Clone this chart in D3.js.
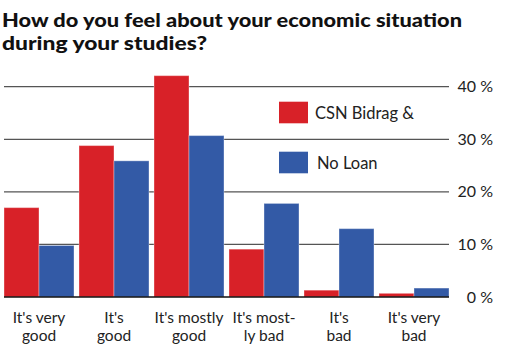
<!DOCTYPE html>
<html><head><meta charset="utf-8">
<script src="https://cdn.jsdelivr.net/npm/d3@7"></script>
<style>body{margin:0;background:#fff}svg{display:block}</style>
</head><body>
<svg id="c" width="510" height="364"></svg>
<script>
const categories = [["It's very","good"],["It's","good"],["It's mostly","good"],["It's most-","ly bad"],["It's","bad"],["It's very","bad"]];
const seriesNames = ["CSN Bidrag &", "No Loan"];
const csnValues = [17.0, 28.8, 42.1, 9.1, 1.3, 0.7];
const noLoanValues = [9.8, 25.9, 30.7, 17.8, 13.0, 1.7];
const tickValues = [0, 10, 20, 30, 40];
const colors = ["#d82128", "#335aa6"];

const svg = d3.select("#c");
const font = "Lato, 'Open Sans', sans-serif";

svg.append("text").attr("x", 2).attr("y", 27).attr("font-family", font).attr("font-weight", 900)
  .attr("font-size", 18.5).attr("fill", "#111")
  .attr("textLength", 460).attr("lengthAdjust", "spacingAndGlyphs")
  .text("How do you feel about your economic situation");
svg.append("text").attr("x", 2).attr("y", 50).attr("font-family", font).attr("font-weight", 900)
  .attr("font-size", 18.5).attr("fill", "#111")
  .attr("textLength", 205).attr("lengthAdjust", "spacingAndGlyphs")
  .text("during your studies?");

const x = d3.scaleBand().domain(d3.range(categories.length)).range([4, 449]).paddingInner(0.0667).paddingOuter(0);
const x1 = d3.scaleBand().domain([0,1]).range([0, x.bandwidth()]);
const y = d3.scaleLinear().domain([0, 40]).range([297, 86.7]);

// gridlines
svg.append("g").selectAll("line").data(tickValues.filter(d => d > 0)).join("line")
  .attr("x1", 4).attr("x2", 449).attr("y1", d => y(d)).attr("y2", d => y(d))
  .attr("stroke", "#555").attr("stroke-width", 1.2);

// bars
const data = categories.map((c, i) => [csnValues[i], noLoanValues[i]]);
const g = svg.append("g").selectAll("g").data(data).join("g").attr("transform", (d, i) => `translate(${x(i)},0)`);
g.selectAll("rect").data(d => d).join("rect")
  .attr("x", (d, j) => x1(j)).attr("width", x1.bandwidth())
  .attr("y", d => y(d)).attr("height", d => y(0) - y(d))
  .attr("fill", (d, j) => colors[j])
  .attr("stroke", "#fff").attr("stroke-opacity", 0.35).attr("stroke-width", 1);

// baseline
svg.append("line").attr("x1", 4).attr("x2", 449).attr("y1", y(0)).attr("y2", y(0)).attr("stroke", "#111").attr("stroke-width", 1.6);

// y axis labels (right)
svg.append("g").selectAll("text").data(tickValues).join("text")
  .attr("x", 493).attr("y", d => y(d) + 5.5).attr("text-anchor", "end")
  .attr("font-family", font).attr("font-size", 16).attr("fill", "#222")
  .text(d => d + " %");

// x labels (two lines each)
const xg = svg.append("g").selectAll("g").data(categories).join("g")
  .attr("transform", (d, i) => `translate(${x(i) + x.bandwidth() / 2},0)`);
[0, 1].forEach(k => {
  xg.append("text").attr("text-anchor", "middle").attr("font-family", font).attr("font-size", 15.5)
    .attr("fill", "#222").attr("x", 0).attr("y", k === 0 ? 322.5 : 340.5).text(d => d[k]);
});

// legend
const leg = svg.append("g").selectAll("g").data(seriesNames).join("g")
  .attr("transform", (d, i) => `translate(279,${101.7 + i * 50})`);
leg.append("rect").attr("width", 29).attr("height", 21.6).attr("fill", (d, i) => colors[i]);
leg.append("text").attr("x", (d, i) => i === 0 ? 36 : 38).attr("y", 17).attr("font-family", font).attr("font-size", 16.5)
  .attr("fill", "#222").text(d => d);
</script>
</body></html>
